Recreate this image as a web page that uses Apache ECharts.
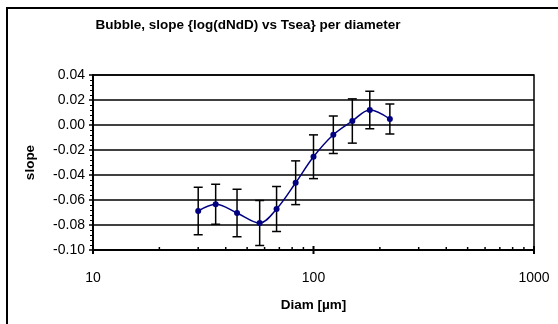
<!DOCTYPE html>
<html><head><meta charset="utf-8">
<script src="https://cdn.jsdelivr.net/npm/echarts@6/dist/echarts.min.js"></script>
<style>html,body{margin:0;padding:0;background:#fff}#c{width:558px;height:324px}</style>
</head><body><div id="c"></div>
<script>
const diameters = [30, 36, 45, 57, 68, 83, 100, 123, 150, 180, 222];
const slopes = [-0.0688, -0.0634, -0.0704, -0.0784, -0.0672, -0.0462, -0.0254, -0.0078, 0.0032, 0.0120, 0.0048];
const errors = [0.019, 0.016, 0.019, 0.018, 0.018, 0.0175, 0.0175, 0.015, 0.0177, 0.015, 0.012];
const xMajorTicks = [10, 100, 1000];
const xMinorTicks = [20, 30, 40, 50, 60, 70, 80, 90, 200, 300, 400, 500, 600, 700, 800, 900];
const yMin = -0.10, yMax = 0.04, yStep = 0.02;
const titleText = 'Bubble, slope {log(dNdD) vs Tsea} per diameter';
const xName = 'Diam [µm]';
const yName = 'slope';

const FONT = 'Liberation Sans, Arial, sans-serif';
const chart = echarts.init(document.getElementById('c'), null, {renderer: 'canvas'});

const lineData = diameters.map((d, i) => [d, slopes[i]]);
const errData = diameters.map((d, i) => [d, slopes[i] - errors[i], slopes[i] + errors[i]]);
const tickData = xMajorTicks.map(v => [v, yMin, 1]).concat(xMinorTicks.map(v => [v, yMin, 0]));

chart.setOption({
  animation: false,
  backgroundColor: '#fff',
  graphic: [
    {type: 'rect', shape: {x: 7, y: 8, width: 700, height: 500}, style: {fill: null, stroke: '#000', lineWidth: 2}, z: 100},
    {type: 'text', style: {text: titleText, x: 248, y: 25, textAlign: 'center', textVerticalAlign: 'middle', font: 'bold 13.5px ' + FONT, fill: '#000'}}
  ],
  grid: {left: 93, right: 24, top: 75, bottom: 74, show: true, borderColor: '#000', borderWidth: 1.5, backgroundColor: 'transparent'},
  xAxis: {
    type: 'log', logBase: 10, min: 10, max: 1000,
    name: xName, nameLocation: 'middle', nameGap: 48,
    nameTextStyle: {fontFamily: FONT, fontWeight: 'bold', fontSize: 13.5, color: '#000'},
    axisLine: {show: true, onZero: false, lineStyle: {color: '#000', width: 2}},
    axisTick: {show: false},
    minorTick: {show: false},
    splitLine: {show: false},
    axisLabel: {fontFamily: FONT, fontSize: 14, color: '#000', margin: 21, formatter: v => String(v)}
  },
  yAxis: {
    type: 'value', min: yMin, max: yMax, interval: yStep,
    name: yName, nameLocation: 'middle', nameGap: 56,
    nameTextStyle: {fontFamily: FONT, fontWeight: 'bold', fontSize: 13.5, color: '#000'},
    axisLine: {show: true, lineStyle: {color: '#000', width: 2}},
    axisTick: {show: true, length: 4, lineStyle: {color: '#000', width: 1.5}},
    minorTick: {show: true, splitNumber: 5, length: 3, lineStyle: {color: '#000', width: 1}},
    splitLine: {show: true, lineStyle: {color: '#000', width: 1.5}},
    axisLabel: {fontFamily: FONT, fontSize: 14, color: '#000', margin: 8, formatter: v => v.toFixed(2)}
  },
  series: [
    {
      type: 'custom', data: tickData, clip: false, silent: true, z: 5,
      renderItem: (params, api) => {
        const p = api.coord([api.value(0), api.value(1)]);
        const major = api.value(2) === 1;
        return {type: 'line', shape: {x1: p[0], y1: major ? p[1] + 4 : p[1], x2: p[0], y2: p[1] - (major ? 4 : 3)},
          style: {stroke: '#000', lineWidth: major ? 2 : 1.5}};
      }
    },
    {
      type: 'custom', data: errData, silent: true, z: 4,
      renderItem: (params, api) => {
        const lo = api.coord([api.value(0), api.value(1)]);
        const hi = api.coord([api.value(0), api.value(2)]);
        const w = 4.5;
        return {type: 'group', children: [
          {type: 'line', shape: {x1: lo[0], y1: lo[1], x2: hi[0], y2: hi[1]}, style: {stroke: '#000', lineWidth: 1.5}},
          {type: 'line', shape: {x1: lo[0] - w, y1: lo[1], x2: lo[0] + w, y2: lo[1]}, style: {stroke: '#000', lineWidth: 1.5}},
          {type: 'line', shape: {x1: hi[0] - w, y1: hi[1], x2: hi[0] + w, y2: hi[1]}, style: {stroke: '#000', lineWidth: 1.5}}
        ]};
      }
    },
    {
      type: 'line', data: lineData, smooth: 0.35, z: 6,
      symbol: 'circle', symbolSize: 6,
      lineStyle: {color: '#000080', width: 1.5},
      itemStyle: {color: '#000080'}
    }
  ]
});
</script></body></html>
